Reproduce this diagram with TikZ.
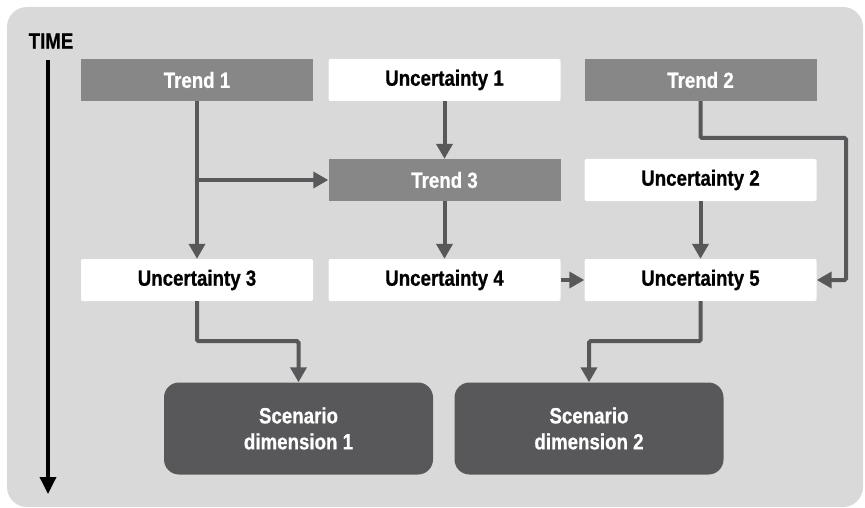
\documentclass[tikz,border=0pt]{standalone}
\usepackage{fontspec}
\setmainfont[FakeStretch=0.85,BoldFeatures={FakeBold=0.7}]{Liberation Sans}
\usetikzlibrary{arrows.meta}
\definecolor{bggray}{HTML}{D9D9D9}
\definecolor{trendgray}{HTML}{878787}
\definecolor{darkgray}{HTML}{58585A}
\definecolor{conngray}{HTML}{58585A}
\begin{document}
\begin{tikzpicture}[x=1pt,y=-1pt,
  box/.style={minimum width=232pt, minimum height=42pt, inner sep=0pt, font=\fontsize{22}{26}\selectfont\bfseries},
  trend/.style={box, fill=trendgray, text=white},
  unc/.style={box, fill=white, text=black, rounded corners=2pt},
  scen/.style={fill=darkgray, text=white, rounded corners=15pt, minimum width=269pt, minimum height=92pt, inner sep=0pt, align=center, font=\fontsize{22}{26}\selectfont\bfseries},
  conn/.style={draw=conngray, line width=4pt, -{Triangle[width=16pt,length=15pt]}, rounded corners=1.5pt},
  timearrow/.style={draw=black, line width=3.5pt, -{Triangle[width=16pt,length=17pt]}}]
\useasboundingbox (0,0) rectangle (865,508);
\fill[bggray, rounded corners=20pt] (7,7) rectangle (863,507);

\node[font=\fontsize{22}{26}\selectfont\bfseries] (time) at (51,41) {TIME};
\coordinate (tstart) at (48,60);
\coordinate (tend) at (48,494);
\draw[timearrow] (tstart) -- (tend);

\node[trend] (t1) at (197,80) {Trend 1};
\node[unc]   (u1) at (444.5,80) {Uncertainty 1};
\node[trend] (t2) at (700.5,80) {Trend 2};
\node[trend] (t3) at (444.5,180) {Trend 3};
\node[unc]   (u2) at (700.5,180) {Uncertainty 2};
\node[unc]   (u3) at (197,280) {Uncertainty 3};
\node[unc]   (u4) at (444.5,280) {Uncertainty 4};
\node[unc]   (u5) at (700.5,280) {Uncertainty 5};
\node[scen]  (s1) at (298.5,428.5) {Scenario\\dimension 1};
\node[scen]  (s2) at (589,428.5) {Scenario\\dimension 2};

\coordinate (b1) at (197,180);
\coordinate (r2) at (846,138);

\draw[conn] (t1.south) -- (u3.north);
\draw[conn] (b1) -- (t3.west);
\draw[conn] (u1.south) -- (t3.north);
\draw[conn] (t3.south) -- (u4.north);
\draw[conn] (u2.south) -- (u5.north);
\draw[conn] (t2.south) |- (r2) |- (u5.east);
\draw[conn] (u4.east) -- (u5.west);
\draw[conn] (u3.south) -- ++(0,40) -| (s1.north);
\draw[conn] (u5.south) -- ++(0,40) -| (s2.north);
\end{tikzpicture}
\end{document}
